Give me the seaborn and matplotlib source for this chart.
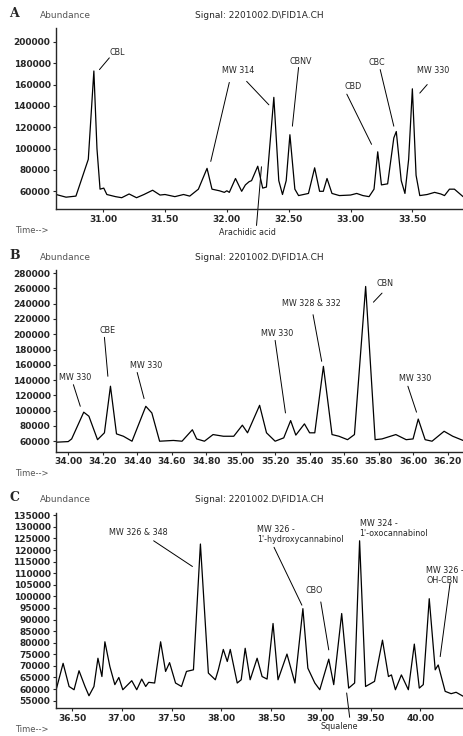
import matplotlib
matplotlib.use("Agg")
import matplotlib.pyplot as plt
import seaborn as sns
import pandas as pd

# Panel A trace
a_time = [30.62,30.70,30.78,30.88,30.925,30.95,30.975,31.005,31.03,31.10,31.15,31.21,31.27,31.33,31.40,31.46,31.50,31.58,31.65,31.70,31.77,31.84,31.88,31.94,31.98,32.00,32.02,32.07,32.12,32.15,32.18,32.20,32.25,32.29,32.32,32.38,32.42,32.45,32.48,32.51,32.55,32.58,32.62,32.66,32.71,32.75,32.78,32.81,32.85,32.91,33.00,33.05,33.10,33.15,33.19,33.22,33.25,33.30,33.35,33.37,33.41,33.44,33.47,33.50,33.53,33.56,33.62,33.68,33.73,33.76,33.80,33.84,33.87,33.91]
a_abund = [57000,54500,55500,90000,172700,100000,62000,63000,57000,55000,54000,57500,54000,57000,61000,56500,57000,55000,57000,55500,62000,81500,62000,60500,59000,60500,59000,72000,60000,66000,69000,70000,83500,63000,64000,148000,70000,57000,70000,113000,62000,56000,57000,58000,82000,60000,60000,72000,58000,56000,56500,58000,56000,55000,62000,97000,66000,67000,110000,116000,70000,58000,90000,156000,75000,56000,57000,59000,57500,56000,62000,62000,59000,55000]

# Panel B trace
b_time = [33.93,34.00,34.02,34.09,34.12,34.17,34.21,34.245,34.28,34.32,34.37,34.45,34.485,34.53,34.61,34.66,34.72,34.745,34.79,34.84,34.90,34.96,35.01,35.04,35.11,35.15,35.20,35.25,35.29,35.32,35.37,35.40,35.43,35.48,35.53,35.57,35.62,35.66,35.725,35.78,35.82,35.90,35.96,36.00,36.03,36.07,36.11,36.18,36.23,36.29]
b_abund = [58700,59500,63000,98000,92700,62000,71000,132000,69600,66500,60000,105700,97000,60000,61000,60000,75000,63000,60000,68700,66500,66500,81000,71000,107000,71000,60000,64400,87000,68000,82700,71000,71000,158000,68700,66500,62000,68700,262600,62000,63000,68700,62000,63000,89000,62000,60000,73000,66500,61000]

# Panel C trace
c_time = [36.34,36.41,36.47,36.52,36.57,36.63,36.67,36.72,36.76,36.80,36.83,36.88,36.93,36.97,37.01,37.10,37.15,37.20,37.24,37.27,37.33,37.39,37.44,37.48,37.54,37.60,37.65,37.72,37.79,37.87,37.94,37.97,38.02,38.06,38.09,38.16,38.20,38.24,38.29,38.36,38.41,38.46,38.52,38.57,38.66,38.74,38.82,38.87,38.94,38.99,39.08,39.13,39.21,39.28,39.34,39.39,39.45,39.54,39.62,39.68,39.71,39.75,39.81,39.88,39.94,39.99,40.03,40.09,40.15,40.18,40.25,40.31,40.36,40.43]
c_abund = [59700,71100,61100,59700,67900,61100,57100,61100,73300,65400,80400,69700,61900,65000,59700,63600,59700,64300,61100,62900,62600,80400,67600,71400,62600,61100,67600,68300,122600,66900,64000,68300,77100,71900,77100,62600,64000,77600,64000,73300,65400,64300,88300,64000,75100,62600,94700,69000,62600,59700,72900,61900,92600,60400,62600,124000,61100,63300,81100,65400,66100,59700,66100,59700,79400,60400,61900,99000,68300,70400,59000,58000,58600,56900]

a_ticks = [31.00,31.50,32.00,32.50,33.00,33.50]
b_ticks = [34.00,34.20,34.40,34.60,34.80,35.00,35.20,35.40,35.60,35.80,36.00,36.20]
c_ticks = [36.50,37.00,37.50,38.00,38.50,39.00,39.50,40.00]
a_yticks = list(range(60000, 200001, 20000))
b_yticks = list(range(60000, 280001, 20000))
c_yticks = list(range(55000, 135001, 5000))

# annotations: text, text pos, line start, line end, alignment
a_labels = [("CBL",(31.11,190000),(31.05,185000),(30.97,174000),"center"),
            ("MW 314",(32.09,172700),(32.02,162000),(31.87,88000),"center"),
            ("",(32.16,163000),(32.16,163000),(32.34,141000),"center"),
            ("CBNV",(32.60,182000),(32.58,176000),(32.53,121000),"center"),
            ("CBD",(33.02,158000),(32.97,151000),(33.17,104000),"center"),
            ("CBC",(33.21,181000),(33.24,174000),(33.35,121000),"center"),
            ("MW 330",(33.67,172700),(33.62,160000),(33.56,152000),"center"),
            ("Arachidic acid",(32.17,21000),(32.24,28000),(32.28,83000),"center")]
b_labels = [("MW 330",(34.04,142800),(34.03,134000),(34.07,105700),"center"),
            ("CBE",(34.23,205000),(34.21,196000),(34.23,145000),"center"),
            ("MW 330",(34.45,159000),(34.40,150000),(34.44,115800),"center"),
            ("MW 330",(35.21,200700),(35.20,192000),(35.26,97000),"center"),
            ("MW 328 & 332",(35.41,240800),(35.42,225600),(35.47,164600),"center"),
            ("CBN",(35.84,266000),(35.82,253900),(35.77,242000),"center"),
            ("MW 330",(36.01,141500),(35.97,132000),(36.02,98000),"center")]
c_labels = [("MW 326 & 348",(37.17,127600),(37.32,124000),(37.71,112900),"center"),
            ("MW 326 -\n1'-hydroxycannabinol",(38.36,126600),(38.53,121200),(38.81,96200),"left"),
            ("CBO",(38.93,102600),(39.00,97600),(39.08,76900),"center"),
            ("MW 324 -\n1'-oxocannabinol",(39.39,129300),None,None,"left"),
            ("MW 326 -\nOH-CBN",(40.06,109000),(40.30,106000),(40.20,74000),"left"),
            ("Squalene",(39.19,43800),(39.26,58300),(39.29,47800),"center")]

sns.set_style("ticks")
plt.rcParams['font.family'] = ['DejaVu Sans']
fig = plt.figure(figsize=(4.64, 7.36), dpi=100)

panels = [
    ("A", [0.121, 0.716, 0.877, 0.246], a_time, a_abund, a_ticks, a_yticks, (30.62, 33.91), (43400, 213000), a_labels),
    ("B", [0.121, 0.386, 0.877, 0.247], b_time, b_abund, b_ticks, b_yticks, (33.93, 36.29), (46000, 284000), b_labels),
    ("C", [0.121, 0.038, 0.877, 0.265], c_time, c_abund, c_ticks, c_yticks, (36.34, 40.43), (51800, 136000), c_labels),
]
for letter, rect, t, v, xt, yt, xl, yl, labels in panels:
    ax = fig.add_axes(rect)
    df = pd.DataFrame({"t": t, "v": v})
    sns.lineplot(data=df, x="t", y="v", ax=ax, color="black", lw=0.9, estimator=None, sort=False)
    ax.set_xlim(*xl); ax.set_ylim(*yl)
    ax.set_xticks(xt); ax.set_xticklabels(["{:.2f}".format(x) for x in xt])
    ax.set_yticks(yt); ax.set_yticklabels([str(y) for y in yt])
    ax.tick_params(labelsize=6.5, length=2.5, width=0.8, pad=1.5)
    for lab in ax.get_xticklabels() + ax.get_yticklabels():
        lab.set_fontweight("bold")
    ax.set_xlabel(""); ax.set_ylabel("")
    sns.despine(ax=ax)
    for s in ("left", "bottom"):
        ax.spines[s].set_linewidth(1.0)
    ax.text(-0.115, 1.045, letter, transform=ax.transAxes, fontsize=9, fontweight="bold", family="DejaVu Serif", va="bottom")
    ax.text(-0.04, 1.045, "Abundance", transform=ax.transAxes, fontsize=6.5, color="#555555", va="bottom")
    ax.text(0.5, 1.045, "Signal: 2201002.D\\FID1A.CH", transform=ax.transAxes, fontsize=6.5, ha="center", va="bottom")
    ax.text(-0.1, -0.12 if letter != "C" else -0.11, "Time-->", transform=ax.transAxes, fontsize=6, color="#555555", va="center")
    for text, tp, p0, p1, ha in labels:
        if text:
            ax.text(tp[0], tp[1], text, fontsize=5.8, ha=ha, va="center", clip_on=False,
                    multialignment="left")
        if p0 is not None:
            ax.plot([p0[0], p1[0]], [p0[1], p1[1]], color="black", lw=0.7, clip_on=False)

fig.savefig("out.png", dpi=100)
